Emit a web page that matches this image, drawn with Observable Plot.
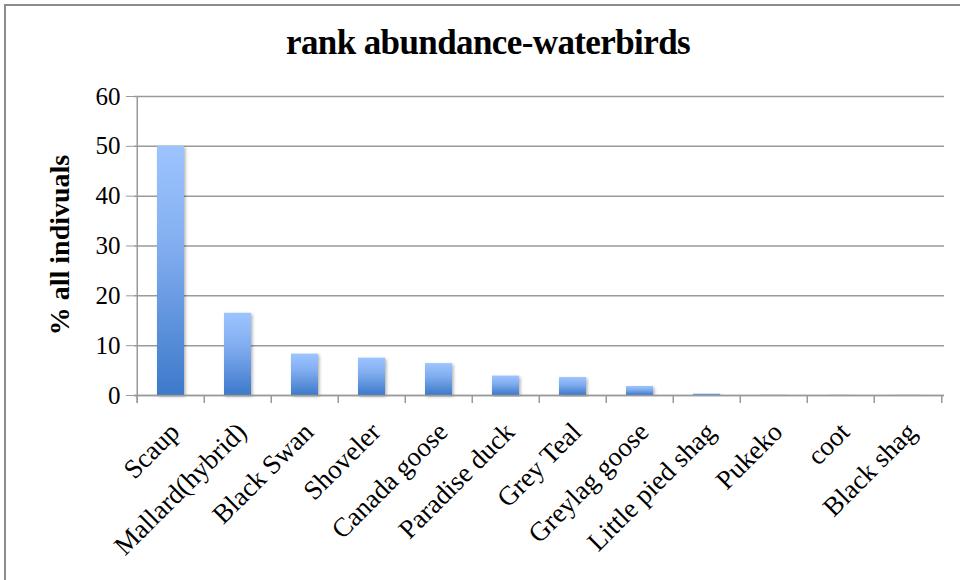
<!DOCTYPE html>
<html><head><meta charset="utf-8">
<script src="https://cdn.jsdelivr.net/npm/d3@7"></script>
<script src="https://cdn.jsdelivr.net/npm/@observablehq/plot@0.6"></script>
<style>
body{margin:0;background:#fff;}
#wrap{position:relative;width:960px;height:580px;overflow:hidden;font-family:"Liberation Serif","DejaVu Serif",serif;color:#000;}
#frame{position:absolute;left:4px;top:4px;width:1000px;height:1000px;border-left:2px solid #8c8c8c;border-top:2px solid #8c8c8c;}
#title{position:absolute;top:23px;left:0;width:976px;text-align:center;font-weight:bold;font-size:35px;letter-spacing:-0.6px;}
#ylabel{position:absolute;left:60px;top:245px;transform:translate(-50%,-50%) rotate(-90deg);font-weight:bold;font-size:28px;white-space:nowrap;}
#chart{position:absolute;left:0;top:80px;}
</style>
</head><body>
<div id="wrap">
  <div id="frame"></div>
  <div id="title">rank abundance-waterbirds</div>
  <div id="chart"></div>
  <div id="ylabel">% all indivuals</div>
</div>
<script>
const species = ["Scaup","Mallard(hybrid)","Black Swan","Shoveler","Canada goose","Paradise duck","Grey Teal","Greylag goose","Little pied shag","Pukeko","coot","Black shag"];
const percent = [50.0,16.5,8.3,7.5,6.4,3.9,3.6,1.8,0.3,0.05,0.05,0.05];
const yTicks = [0,10,20,30,40,50,60];

const data = species.map((s,i)=>({species:s, percent:percent[i]}));

const W = 960, H = 500, ML = 134, MR = 16, MT = 16, MB = 185;
const half = (W - ML - MR) / species.length / 2;
const grey = "#9a9a9a";

const plot = Plot.plot({
  width: W, height: H,
  marginLeft: ML, marginRight: MR, marginTop: MT, marginBottom: MB,
  style: {fontFamily: "Liberation Serif, DejaVu Serif, serif", fontSize: "22px", color: "#000", background: "transparent", overflow: "visible"},
  x: {domain: species, paddingInner: 0.6, paddingOuter: 0.3, label: null},
  y: {domain: [0, 60], label: null},
  marks: [
    Plot.gridY(yTicks, {stroke: grey, strokeOpacity: 1, strokeWidth: 1.5}),
    Plot.barY(data, {x: "species", y: "percent", fill: "url(#barGrad)"}),
    Plot.ruleY([0], {stroke: grey, strokeWidth: 1.5}),
    Plot.ruleX([species[0]], {x: d => d, y1: 60, y2: 0, dx: -half, stroke: grey, strokeWidth: 1.5, insetBottom: -8}),
    Plot.ruleX(species, {x: d => d, y1: 0, y2: 0, dx: -half, stroke: grey, strokeWidth: 1.5, insetBottom: -8}),
    Plot.ruleX([species[species.length-1]], {x: d => d, y1: 0, y2: 0, dx: half, stroke: grey, strokeWidth: 1.5, insetBottom: -8}),
    Plot.axisY(yTicks, {tickSize: 8, tickPadding: 6, stroke: grey, fontSize: 25, label: null}),
    Plot.axisX({tickRotate: -45, tickSize: 0, tickPadding: 22, dx: 4, dy: 10, fontSize: 27, label: null, ariaLabel: "x-axis labels"})
  ]
});

const svg = d3.select(plot);
svg.selectAll("g[aria-label='x-axis labels'] text").style("letter-spacing", "0.6px");
const defs = svg.insert("defs", ":first-child");
const g = defs.append("linearGradient").attr("id", "barGrad").attr("x1", 0).attr("y1", 0).attr("x2", 0).attr("y2", 1);
g.append("stop").attr("offset", "0%").attr("stop-color", "#9dc4ff");
g.append("stop").attr("offset", "40%").attr("stop-color", "#82aef0");
g.append("stop").attr("offset", "100%").attr("stop-color", "#3d79ca");
const f = defs.append("filter").attr("id", "shadow").attr("x", "-20%").attr("y", "-5%").attr("width", "150%").attr("height", "115%");
f.append("feDropShadow").attr("dx", 1.5).attr("dy", 1.5).attr("stdDeviation", 1.5).attr("flood-color", "#000").attr("flood-opacity", 0.3);
svg.selectAll("g[aria-label='bar'] rect").attr("filter", "url(#shadow)");

document.getElementById("chart").appendChild(plot);
</script>
</body></html>
